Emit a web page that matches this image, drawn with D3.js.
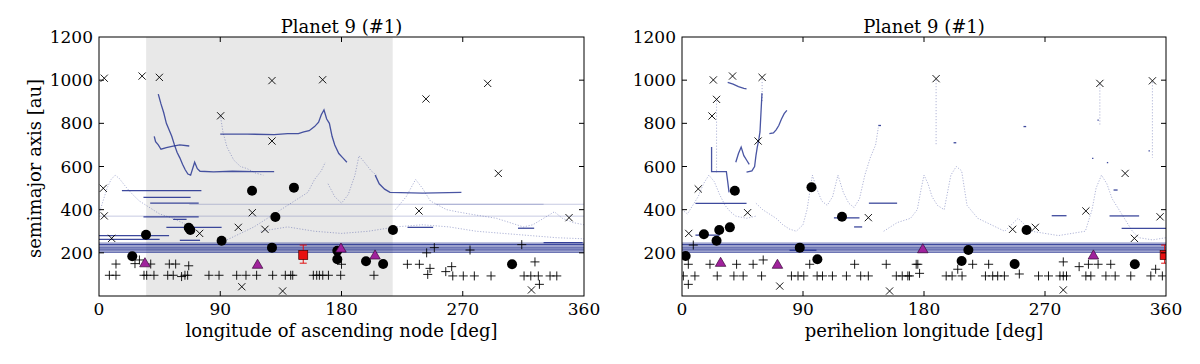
<!DOCTYPE html>
<html>
<head>
<meta charset="utf-8">
<script src="https://cdn.jsdelivr.net/npm/d3@7"></script>
<style>
  body { margin: 0; background: #fff; }
  svg { font-family: "DejaVu Serif", serif; }
</style>
</head>
<body>
<div id="chart"></div>
<script>
// ---- data (deg, au) ----
const xTicks = [0, 90, 180, 270, 360];
const yTicks = [200, 400, 600, 800, 1000, 1200];
const bandLevels = [203, 209, 214, 220, 226, 232, 238, 245];
const nodeShade = [35, 218];

// longitude of ascending node panel
const nodeCircles = [[24.7,184],[34.9,284],[66.6,316],[67.8,306],[91,256],[113.6,488],[128.4,224],[130.9,366],[144.7,502],[176.9,210],[176.9,170],[198.2,161],[210.9,148],[218.2,306],[306.6,147]];
const nodeCrosses = [[3.9,1009],[32,1019],[44.8,1013],[90.3,835],[128.4,998],[166,1002],[128.4,718],[242.7,913],[288.5,985],[296.4,568],[3.2,499],[3.9,371],[9.4,267],[74.7,290],[103.4,318],[113.8,386],[123.2,309],[106,43],[136.3,23],[237.5,394],[348.9,363],[321,28]];
const nodePluses = [[12.6,148],[26.7,150],[30,167],[38.4,148],[52.2,148],[56.9,148],[66.6,140],[180,147],[228.9,147],[237.8,147],[245.7,128],[244,100],[257.4,113],[261.8,136],[323.6,158],[243.2,200],[248.9,224],[275.4,213],[313.8,238],
  [7.7,96],[12.6,96],[33.4,96],[35.4,96],[40.8,96],[51,96],[55.1,96],[61.3,90],[63.8,96],[65.8,96],[81.6,96],[89.1,96],[102.2,96],[109.1,96],[117,96],[128.9,96],[138.3,96],[142.3,96],[143.8,96],[159.1,96],[161.6,96],[163.6,96],[166.1,96],[170.3,96],[179.4,96],[204.1,96],
  [262.6,93],[270.4,93],[278.6,93],[291,93],[315.5,93],[320.5,93],[326.1,93],[334.8,93],[339.8,93],[326.9,54]];
const nodeTriangles = [[34.1,154],[117.7,147],[179.6,222],[204.9,190]];
const nodeSquare = [[151.6,190,46,38]]; // x, a, err up, err down

// dark trajectories (node)
const nodeTrack750 = [[90,750],[110,750],[130,748],[140,752],[148,752],[152,760],[156,766],[160,785],[163,805],[165,840],[167,862],[169,820],[171,800],[173,740],[175,700],[178,660],[181,640],[184,620]];
const nodeTrack575 = [[44,935],[46,890],[48,850],[50,800],[52,770],[54,740],[56,700],[58,665],[60,640],[62,610],[64,585],[66,565],[68,560],[71,620],[73,590],[75,578],[85,575],[99,578],[115,576],[130,576]];
const nodeTrack690 = [[41,740],[42,715],[44,700],[46,680],[50,688],[55,694],[60,700],[67,695]];
const nodeTrack480 = [[205,560],[208,520],[212,495],[216,480],[240,477],[269,480]];
const nodeSegments = [[17,76,488],[33,68,457],[38,74,430],[33,74,367],[50,91,318],[0,52,280],[0,45,262],[60,75,258],[229,248,318],[311,323,314],[330,359,247],[55,65,355]];
// faint trajectories (node)
const nodeFaint1 = [[0,380],[3,440],[6,500],[9,540],[12,560],[15,545],[20,505],[25,470],[30,440],[35,420],[40,400],[45,380],[55,360],[65,330]];
const nodeFaint2 = [[90,840],[92,760],[95,690],[100,630],[105,600],[110,590],[116,570],[122,560]];
const nodeFaint3 = [[95,260],[105,290],[115,320],[125,360],[135,400],[145,440],[155,480],[160,540],[165,580],[168,620]];
const nodeFaint4 = [[170,520],[175,460],[180,430],[185,470],[190,560],[193,650],[197,620],[202,580],[206,560]];
const nodeFaint5 = [[220,400],[228,460],[235,540],[240,500],[246,440],[252,420],[258,400],[266,390],[275,380],[285,370],[295,360],[305,340],[315,320],[322,330],[330,360],[338,390],[344,360],[352,340],[360,330]];
const nodeFaint6 = [[120,300],[140,320],[160,300],[180,290],[200,300],[220,320],[240,330],[260,320],[280,300],[300,290],[320,280],[340,270],[360,265]];
const nodeFaintFlat = [[0,370,360],[67,425,360],[250,425,330]];

// perihelion longitude panel
const periCircles = [[2.7,185],[16.3,286],[25.7,256],[27.7,306],[35.6,318],[39.3,488],[96.3,504],[87.6,224],[100.7,170],[119,367],[213,213],[208,162],[256.3,306],[247.4,148],[336.8,147]];
const periCrosses = [[23.3,1001],[37.6,1019],[59.6,1013],[25.7,911],[22.3,834],[56.6,718],[12.1,496],[5,290],[48.8,386],[72.7,46],[138.6,363],[154.4,23],[189,1007],[310.8,985],[349.9,997],[329.6,568],[300.4,394],[245.9,309],[262.8,318],[355.6,367],[336.5,267],[283.6,28]];
const periPluses = [[4.7,147],[20.8,147],[40.6,147],[52.9,147],[60.4,167],[95,147],[128.4,147],[151.9,147],[174.2,147],[8.4,236],
  [1,93],[9.6,93],[26.2,93],[38.6,93],[45.5,93],[59.2,93],[81.4,93],[86.3,93],[90.6,93],[100.5,93],[104.5,93],[111.9,93],[122.3,93],[132.9,93],[138.6,93],[159.4,93],[163.8,93],[168,93],[4.7,54],
  [175.4,147],[205.1,124],[216.2,147],[228.1,147],[283.6,158],[295.4,136],[302.3,147],[309.5,147],[318.9,147],[352.3,124],
  [169.2,93],[176.7,105],[196.5,93],[200.9,93],[208.3,93],[225.7,93],[231.1,93],[234.8,93],[239.8,93],[250.9,102],[265.2,93],[272.6,93],[281.1,93],[283.6,93],[286,93],[300.4,93],[304.1,93],[315.3,93],[322.2,93],[333.8,93],[348.7,93],[357.3,93]];
const periTriangles = [[28.7,156],[71,147],[179.1,219],[306,190]];
const periSquare = [[359,190,46,38]];

const periTrack975 = [[34,990],[38,982],[42,970],[46,962],[48,960]];
const periTrack800 = [[65,752],[68,756],[70,770],[72,790],[74,820],[76,845],[78,860]];
const periTrackSpike = [[59.5,940],[59,880],[58.5,820],[58,760],[57,720],[56,690],[55,650],[54,600],[52,580],[48,574]];
const periTrack576 = [[22,690],[22,640],[22,600],[22,576],[27,576],[33,576],[34,530],[35,480]];
const periTrack650 = [[40,620],[42,660],[44,690],[46,650],[48,630],[50,610]];
const periSegments = [[10,48,429],[139,160,430],[113,132,362],[10,28,282],[128,134,320],[275,286,372],[318,340,371],[327,360,313],[80,100,212],[321,324,491],[146,148,790],[202,204,710],[254,256,785],[309,310,815],[305,306,638],[316,317,618],[347,348,672]];
const periFaint1 = [[0,400],[4,380],[8,420],[12,460],[16,520],[20,560],[24,530],[28,470],[32,420],[36,390],[40,370],[48,360],[55,370]];
const periFaint2 = [[55,430],[60,400],[65,380],[70,360],[75,330],[80,310],[85,300],[90,330],[93,400],[95,480],[97,560],[100,500],[104,440],[108,420],[112,460],[116,560],[120,480],[124,430],[128,410],[132,450],[136,560],[140,640],[144,700],[146,780]];
const periFaint3 = [[150,300],[155,320],[160,340],[165,350],[170,360],[175,400],[178,500],[180,560],[183,520],[186,460],[190,420],[195,400],[200,560],[204,600],[208,580],[212,420],[220,360],[230,330],[240,300],[245,330],[250,360],[255,330],[260,300],[270,290],[280,280],[290,290],[300,300],[305,400],[308,500],[312,560],[316,520],[320,450],[325,400],[330,350],[335,300],[340,270],[350,260],[360,270]];
const periFaintSpikes = [[189,1000,700],[310.8,980,790],[349.9,990,640],[25.7,905,570],[59.6,1005,900]];

// ---- layout ----
const width = 1200, height = 364;
const plotTop = 37, plotBottom = 296;

const svg = d3.select("#chart").append("svg")
  .attr("width", width)
  .attr("height", height);

const navy = "#1c2a8c";

function drawPanel(p) {
  const x = d3.scaleLinear().domain([0, 360]).range([p.left, p.right]);
  const y = d3.scaleLinear().domain([0, 1200]).range([plotBottom, plotTop]);
  const g = svg.append("g");

  const clipId = "clip-" + p.id;
  svg.append("clipPath").attr("id", clipId)
    .append("rect")
      .attr("x", p.left).attr("y", plotTop)
      .attr("width", p.right - p.left).attr("height", plotBottom - plotTop);

  const plot = g.append("g").attr("clip-path", `url(#${clipId})`);

  if (p.shade) {
    plot.append("rect")
      .attr("x", x(p.shade[0])).attr("y", plotTop)
      .attr("width", x(p.shade[1]) - x(p.shade[0]))
      .attr("height", plotBottom - plotTop)
      .attr("fill", "#e8e8e8");
  }

  const line = d3.line().x(d => x(d[0])).y(d => y(d[1]));

  // faint scattered trajectories
  p.faint.forEach(tr => {
    plot.append("path").datum(tr)
      .attr("d", line)
      .attr("fill", "none")
      .attr("stroke", navy)
      .attr("stroke-width", 1)
      .attr("stroke-dasharray", "1.2,1.6")
      .attr("opacity", 0.35);
  });
  plot.selectAll("line.flat")
    .data(p.faintFlat || [])
    .join("line")
      .attr("x1", d => x(d[0])).attr("x2", d => x(d[2]))
      .attr("y1", d => y(d[1])).attr("y2", d => y(d[1]))
      .attr("stroke", navy).attr("stroke-width", 0.8).attr("opacity", 0.3);
  plot.selectAll("line.spike")
    .data(p.spikes || [])
    .join("line")
      .attr("x1", d => x(d[0])).attr("x2", d => x(d[0]))
      .attr("y1", d => y(d[1])).attr("y2", d => y(d[2]))
      .attr("stroke", navy).attr("stroke-width", 1)
      .attr("stroke-dasharray", "1,2").attr("opacity", 0.4);

  // band of orbits around 200-245 au
  plot.selectAll("line.band")
    .data(bandLevels)
    .join("line")
      .attr("x1", x(0)).attr("x2", x(360))
      .attr("y1", d => y(d)).attr("y2", d => y(d))
      .attr("stroke", navy)
      .attr("stroke-width", 1.1)
      .attr("opacity", (d, i) => i % 2 ? 0.55 : 0.85);

  // dark trajectories
  p.tracks.forEach(tr => {
    plot.append("path").datum(tr)
      .attr("d", line)
      .attr("fill", "none")
      .attr("stroke", navy)
      .attr("stroke-width", 1.3)
      .attr("opacity", 0.8);
  });
  plot.selectAll("line.seg")
    .data(p.segments)
    .join("line")
      .attr("x1", d => x(d[0])).attr("x2", d => x(d[1]))
      .attr("y1", d => y(d[2])).attr("y2", d => y(d[2]))
      .attr("stroke", navy).attr("stroke-width", 1.3).attr("opacity", 0.85);

  // plus markers
  plot.selectAll("path.plus")
    .data(p.pluses)
    .join("path")
      .attr("d", d => {
        const cx = x(d[0]), cy = y(d[1]), s = 4.5;
        return `M${cx - s},${cy}H${cx + s}M${cx},${cy - s}V${cy + s}`;
      })
      .attr("stroke", "#000").attr("stroke-width", 0.9).attr("fill", "none");

  // x markers
  plot.selectAll("path.cross")
    .data(p.crosses)
    .join("path")
      .attr("d", d => {
        const cx = x(d[0]), cy = y(d[1]), s = 3.6;
        return `M${cx - s},${cy - s}L${cx + s},${cy + s}M${cx - s},${cy + s}L${cx + s},${cy - s}`;
      })
      .attr("stroke", "#000").attr("stroke-width", 0.9).attr("fill", "none");

  // filled circles
  plot.selectAll("circle.obj")
    .data(p.circles)
    .join("circle")
      .attr("cx", d => x(d[0])).attr("cy", d => y(d[1]))
      .attr("r", 5)
      .attr("fill", "#000");

  // triangles
  plot.selectAll("path.tri")
    .data(p.triangles)
    .join("path")
      .attr("d", d3.symbol(d3.symbolTriangle, 48))
      .attr("transform", d => `translate(${x(d[0])},${y(d[1]) + 1})`)
      .attr("fill", "#a0229c")
      .attr("stroke", "#3a0a38")
      .attr("stroke-width", 0.7);

  // red square with error bar
  const sq = plot.selectAll("g.sq").data(p.square).join("g");
  sq.append("path")
    .attr("d", d => {
      const cx = x(d[0]), y1 = y(d[1] + d[2]), y2 = y(d[1] - d[3]);
      return `M${cx},${y1}V${y2}M${cx - 3.5},${y1}H${cx + 3.5}M${cx - 3.5},${y2}H${cx + 3.5}`;
    })
    .attr("stroke", "#e01010").attr("stroke-width", 1);
  sq.append("rect")
    .attr("x", d => x(d[0]) - 4.5).attr("y", d => y(d[1]) - 4.5)
    .attr("width", 9).attr("height", 9)
    .attr("fill", "#e81010").attr("stroke", "#400").attr("stroke-width", 0.7);

  // frame
  g.append("rect")
    .attr("x", p.left).attr("y", plotTop)
    .attr("width", p.right - p.left).attr("height", plotBottom - plotTop)
    .attr("fill", "none").attr("stroke", "#000").attr("stroke-width", 1);

  // inward ticks on all sides
  const tk = 5;
  g.selectAll("path.xt").data(xTicks.slice(1, -1)).join("path")
    .attr("d", d => `M${x(d)},${plotBottom}v${-tk}M${x(d)},${plotTop}v${tk}`)
    .attr("stroke", "#000").attr("stroke-width", 1);
  g.selectAll("path.yt").data(yTicks.slice(0, -1)).join("path")
    .attr("d", d => `M${p.left},${y(d)}h${tk}M${p.right},${y(d)}h${-tk}`)
    .attr("stroke", "#000").attr("stroke-width", 1);

  // tick labels
  g.selectAll("text.xl").data(xTicks).join("text")
    .attr("x", d => x(d)).attr("y", 315)
    .attr("text-anchor", "middle")
    .style("font-size", "17px")
    .text(d => d);
  g.selectAll("text.yl").data(yTicks).join("text")
    .attr("x", p.left - 6).attr("y", d => y(d) + 6)
    .attr("text-anchor", "end")
    .style("font-size", "17px")
    .text(d => d);

  // title and axis labels
  g.append("text")
    .attr("x", (p.left + p.right) / 2).attr("y", 33)
    .attr("text-anchor", "middle")
    .style("font-size", "18px")
    .text("Planet 9 (#1)");
  g.append("text")
    .attr("x", (p.left + p.right) / 2).attr("y", 337)
    .attr("text-anchor", "middle")
    .style("font-size", "18px")
    .text(p.xLabel);
  if (p.yLabel) {
    g.append("text")
      .attr("transform", `translate(41,${(plotTop + plotBottom) / 2 + 2}) rotate(-90)`)
      .attr("text-anchor", "middle")
      .style("font-size", "18px")
      .text(p.yLabel);
  }
}

drawPanel({
  id: "node", left: 99, right: 584, shade: nodeShade,
  xLabel: "longitude of ascending node [deg]",
  yLabel: "semimajor axis [au]",
  circles: nodeCircles, crosses: nodeCrosses, pluses: nodePluses,
  triangles: nodeTriangles, square: nodeSquare,
  tracks: [nodeTrack750, nodeTrack575, nodeTrack690, nodeTrack480],
  segments: nodeSegments,
  faint: [nodeFaint1, nodeFaint2, nodeFaint3, nodeFaint4, nodeFaint5, nodeFaint6],
  faintFlat: nodeFaintFlat
});

drawPanel({
  id: "peri", left: 682, right: 1166,
  xLabel: "perihelion longitude [deg]",
  circles: periCircles, crosses: periCrosses, pluses: periPluses,
  triangles: periTriangles, square: periSquare,
  tracks: [periTrack975, periTrack800, periTrackSpike, periTrack576, periTrack650],
  segments: periSegments,
  faint: [periFaint1, periFaint2, periFaint3],
  spikes: periFaintSpikes
});
</script>
</body>
</html>
